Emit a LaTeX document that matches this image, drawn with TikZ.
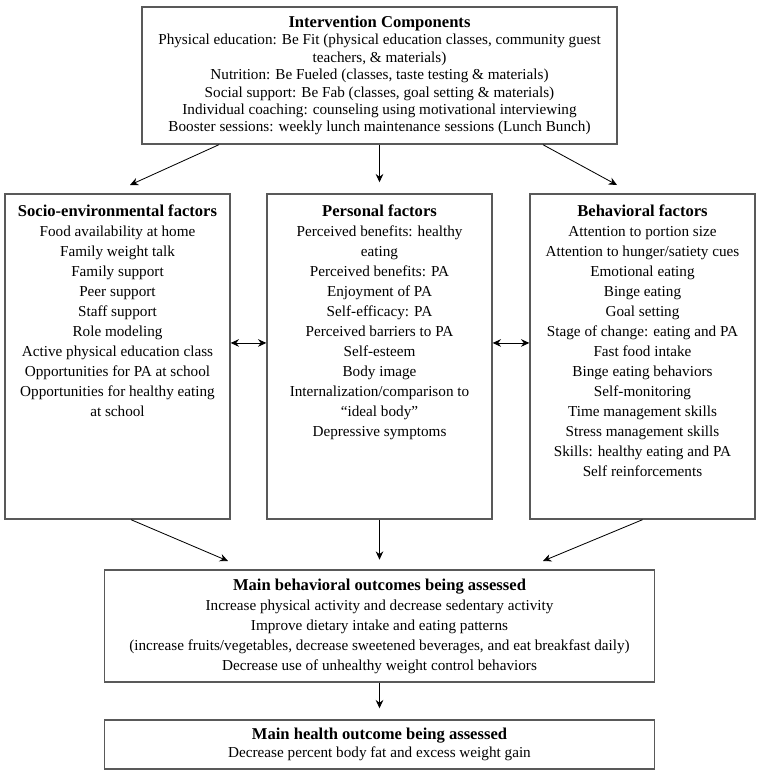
\documentclass[tikz,border=0pt]{standalone}
\usepackage{fontspec}
\setmainfont{Liberation Serif}
\usetikzlibrary{arrows.meta,positioning}
\tikzset{
    box/.style={draw=black!65, line width=1pt, inner sep=0pt},
    boxtext/.style={align=center, inner sep=0pt, font=\fontsize{11}{14.47}\selectfont},
    arr/.style={-{Stealth[length=6pt,width=5.5pt,inset=2pt]}, line width=0.6pt},
    dblarr/.style={{Stealth[length=6pt,width=5.5pt,inset=2pt]}-{Stealth[length=6pt,width=5.5pt,inset=2pt]}, line width=0.6pt}
}
\newcommand{\boxtitle}[1]{{\fontsize{12}{14.47}\selectfont\bfseries #1}}
\begin{document}
\begin{tikzpicture}[x=0.7237pt, y=-0.7237pt]
    \useasboundingbox (0,0) rectangle (760,775);
    % intervention
    \node[box, boxtext, minimum width=343.76pt, minimum height=99.15pt, font=\fontsize{11}{12.6}\selectfont] (comp) at (379.5,75.5)
        {\boxtitle{Intervention Components}\\
        Physical education: Be Fit (physical education classes, community guest\\
        teachers, \& materials)\\
        Nutrition: Be Fueled (classes, taste testing \& materials)\\
        Social support: Be Fab (classes, goal setting \& materials)\\
        Individual coaching: counseling using motivational interviewing\\
        Booster sessions: weekly lunch maintenance sessions (Lunch Bunch)};
    % factors
    \node[box, minimum width=162.83pt, minimum height=235.2pt] (socio) at (117.5,356.5) {};
    \node[box, minimum width=162.83pt, minimum height=235.2pt] (personal) at (379.5,356.5) {};
    \node[box, minimum width=162.83pt, minimum height=235.2pt] (behav) at (642.5,356.5) {};
    \node[boxtext, anchor=north] (sociotext) at ([yshift=-8pt]socio.north)
        {\boxtitle{Socio-environmental factors}\\
        Food availability at home\\
        Family weight talk\\
        Family support\\
        Peer support\\
        Staff support\\
        Role modeling\\
        Active physical education class\\
        Opportunities for PA at school\\
        Opportunities for healthy eating\\
        at school};
    \node[boxtext, anchor=north] (personaltext) at ([yshift=-8pt]personal.north)
        {\boxtitle{Personal factors}\\
        Perceived benefits: healthy\\
        eating\\
        Perceived benefits: PA\\
        Enjoyment of PA\\
        Self-efficacy: PA\\
        Perceived barriers to PA\\
        Self-esteem\\
        Body image\\
        Internalization/comparison to\\
        ``ideal body''\\
        Depressive symptoms};
    \node[boxtext, anchor=north] (behavtext) at ([yshift=-8pt]behav.north)
        {\boxtitle{Behavioral factors}\\
        Attention to portion size\\
        Attention to hunger/satiety cues\\
        Emotional eating\\
        Binge eating\\
        Goal setting\\
        Stage of change: eating and PA\\
        Fast food intake\\
        Binge eating behaviors\\
        Self-monitoring\\
        Time management skills\\
        Stress management skills\\
        Skills: healthy eating and PA\\
        Self reinforcements};
    % outcomes
    \node[box, boxtext, minimum width=398pt, minimum height=81.05pt] (main) at (379.5,626)
        {\boxtitle{Main behavioral outcomes being assessed}\\
        Increase physical activity and decrease sedentary activity\\
        Improve dietary intake and eating patterns\\
        (increase fruits/vegetables, decrease sweetened beverages, and eat breakfast daily)\\
        Decrease use of unhealthy weight control behaviors};
    \node[box, boxtext, minimum width=398pt, minimum height=35.46pt, font=\fontsize{11}{13}\selectfont] (health) at (379.5,744.5)
        {\boxtitle{Main health outcome being assessed}\\
        Decrease percent body fat and excess weight gain};
    % arrows
    \coordinate (t1) at (130,185);
    \coordinate (t2) at (617,185);
    \coordinate (m1) at (228,561);
    \coordinate (m2) at (543,561);
    \draw[arr] ([xshift=-116.2pt]comp.south) -- (t1);
    \draw[arr, shorten >=8pt] (comp.south) -- (personal.north);
    \draw[arr] ([xshift=118.3pt]comp.south) -- (t2);
    \draw[dblarr] ([yshift=9.8pt]socio.east) -- ([yshift=9.8pt]personal.west);
    \draw[dblarr] ([yshift=9.8pt]personal.east) -- ([yshift=9.8pt]behav.west);
    \draw[arr] ([xshift=9.8pt]socio.south) -- (m1);
    \draw[arr, shorten >=7pt] (personal.south) -- (main.north);
    \draw[arr] (behav.south) -- (m2);
    \draw[arr, shorten >=8pt] (main.south) -- (health.north);
\end{tikzpicture}
\end{document}
